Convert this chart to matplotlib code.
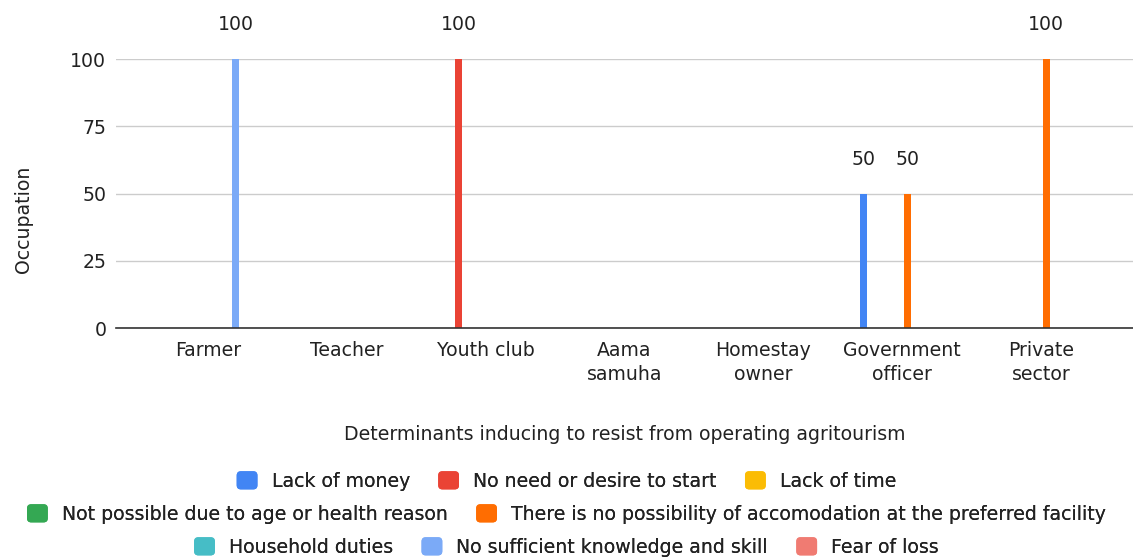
import matplotlib
matplotlib.use("Agg")
import matplotlib.pyplot as plt
import numpy as np
from matplotlib.patches import FancyBboxPatch
from matplotlib.legend_handler import HandlerPatch
from matplotlib.container import BarContainer

plt.rcParams['font.family'] = ['DejaVu Sans']

categories = ["Farmer", "Teacher", "Youth club", "Aama\nsamuha", "Homestay\nowner",
              "Government\nofficer", "Private\nsector"]
series_names = ["Lack of money", "No need or desire to start", "Lack of time",
                "Not possible due to age or health reason",
                "There is no possibility of accomodation at the preferred facility",
                "Household duties", "No sufficient knowledge and skill", "Fear of loss"]
colors = ["#4285F4", "#EA4335", "#FBBC04", "#34A853", "#FF6D01", "#46BDC6", "#7BAAF7", "#F07B72"]

lack_of_money      = [0, 0, 0, 0, 0, 50, 0]
no_need            = [0, 0, 100, 0, 0, 0, 0]
lack_of_time       = [0, 0, 0, 0, 0, 0, 0]
age_health         = [0, 0, 0, 0, 0, 0, 0]
no_accomodation    = [0, 0, 0, 0, 0, 50, 100]
household_duties   = [0, 0, 0, 0, 0, 0, 0]
no_knowledge       = [100, 0, 0, 0, 0, 0, 0]
fear_of_loss       = [0, 0, 0, 0, 0, 0, 0]
series_values = [lack_of_money, no_need, lack_of_time, age_health,
                 no_accomodation, household_duties, no_knowledge, fear_of_loss]

W, H = 1133, 558
fig = plt.figure(figsize=(W / 100, H / 100), dpi=100)
ax = fig.add_axes([116 / W, 1 - 328 / H, (W - 116) / W, (328 - 59) / H])

FS = 13.6
TXT = "#222222"
x = np.arange(len(categories))
step = 0.0785
bw = 0.05
n = len(series_names)
handles = []
for i, (name, vals, c) in enumerate(zip(series_names, series_values, colors)):
    pos = x + (i - (n - 1) / 2) * step
    bars = ax.bar(pos, vals, width=bw, color=c, label=name, linewidth=0, zorder=3)
    handles.append(bars)
    for p, v in zip(pos, vals):
        if v > 0:
            ax.annotate(f"{v:g}", (p, v), xytext=(0, 24.5), textcoords="offset points",
                        ha="center", va="center", fontsize=FS, color=TXT,
                        annotation_clip=False)

ax.set_xlim(-0.5 - 0.164, len(categories) - 0.5 + 0.164)
ax.set_ylim(0, 100)
ax.set_yticks([0, 25, 50, 75, 100])
ax.set_xticks(x)
ax.set_xticklabels(categories, linespacing=1.4)
ax.tick_params(axis='both', length=0, labelsize=FS, colors=TXT)
ax.tick_params(axis='x', pad=9)
ax.tick_params(axis='y', pad=7)
ax.grid(axis='y', color="#cccccc", linewidth=1, zorder=0)
ax.set_axisbelow(True)
for s in ['top', 'right', 'left']:
    ax.spines[s].set_visible(False)
ax.spines['bottom'].set_color("#333333")
ax.spines['bottom'].set_linewidth(1.2)
ax.spines['bottom'].set_zorder(4)

ax.set_ylabel("Occupation", fontsize=FS, color=TXT, va='center')
ax.yaxis.set_label_coords((23 - 116) / (W - 116), (328 - 219) / (328 - 59))
ax.set_xlabel("Determinants inducing to resist from operating agritourism",
              fontsize=FS, color=TXT, va='center')
ax.xaxis.set_label_coords(0.5, -(434 - 328) / (328 - 59))


class RoundHandler(HandlerPatch):
    def create_artists(self, legend, orig_handle, xdescent, ydescent, width, height,
                       fontsize, trans):
        fc = orig_handle.patches[0].get_facecolor()
        p = FancyBboxPatch((-xdescent, -ydescent), width, height,
                           boxstyle="round,pad=0,rounding_size=3",
                           facecolor=fc, edgecolor='none', transform=trans)
        return [p]


rows = [[0, 1, 2], [3, 4], [5, 6, 7]]
row_y = [481, 514, 547]
hmap = {BarContainer: RoundHandler()}
for r, yy in zip(rows, row_y):
    leg = fig.legend([handles[i] for i in r], [series_names[i] for i in r],
                     loc='center', bbox_to_anchor=(0.5, 1 - yy / H), ncol=len(r),
                     frameon=False, fontsize=FS, handlelength=1.1, handleheight=1.1,
                     handletextpad=0.75, columnspacing=1.5, borderpad=0, borderaxespad=0,
                     handler_map=hmap, labelcolor=TXT)
    fig.add_artist(leg)

fig.savefig("out.png", dpi=100)
